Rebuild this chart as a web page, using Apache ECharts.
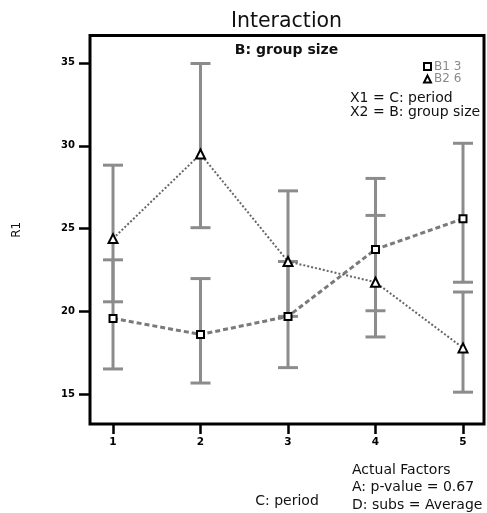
<!DOCTYPE html>
<html>
<head>
<meta charset="utf-8">
<script src="https://cdn.jsdelivr.net/npm/echarts@6/dist/echarts.min.js"></script>
<style>
html,body{margin:0;padding:0;background:#fff;}
#chart{width:487px;height:513px;}
</style>
</head>
<body>
<div id="chart"></div>
<script>
// Data
const periods = [1, 2, 3, 4, 5];
const xTicks = [1, 2, 3, 4, 5];
const yTicks = [15, 20, 25, 30, 35];
const b1Name = 'B1 3';
const b2Name = 'B2 6';
const b1Mean = [19.59, 18.62, 19.71, 23.75, 25.6];
const b1Low  = [16.54, 15.69, 16.62, 20.05, 21.77];
const b1High = [23.12, 21.99, 23.02, 28.03, 30.15];
const b2Mean = [24.4, 29.5, 23.02, 21.77, 17.81];
const b2Low  = [20.59, 25.06, 19.71, 18.47, 15.14];
const b2High = [28.83, 34.96, 27.28, 25.8, 21.18];

const FONT = 'DejaVu Sans';
const chart = echarts.init(document.getElementById('chart'), null, {renderer: 'canvas'});

function errData(low, high) {
  return periods.map((p, i) => [p, low[i], high[i]]);
}
function errRender(params, api) {
  const x = api.value(0);
  const lo = api.coord([x, api.value(1)]);
  const hi = api.coord([x, api.value(2)]);
  const h = 10;
  const st = {stroke: '#8c8c8c', lineWidth: 3};
  return {
    type: 'group',
    children: [
      {type: 'line', shape: {x1: lo[0], y1: lo[1], x2: hi[0], y2: hi[1]}, style: st},
      {type: 'line', shape: {x1: lo[0] - h, y1: lo[1], x2: lo[0] + h, y2: lo[1]}, style: st},
      {type: 'line', shape: {x1: hi[0] - h, y1: hi[1], x2: hi[0] + h, y2: hi[1]}, style: st}
    ]
  };
}

const option = {
  animation: false,
  backgroundColor: '#fff',
  grid: {left: 90, top: 35.5, right: 3, bottom: 83, show: true, borderColor: '#000', borderWidth: 3, backgroundColor: 'transparent'},
  xAxis: {
    type: 'value', min: 0.737, max: 5.24,
    name: 'C: period', nameLocation: 'middle', nameGap: 70,
    nameTextStyle: {fontFamily: FONT, fontSize: 14, color: '#111'},
    axisLine: {show: false},
    splitLine: {show: false},
    axisTick: {show: true, length: 10, lineStyle: {color: '#000', width: 2.5}, customValues: xTicks},
    axisLabel: {fontFamily: FONT, fontSize: 10.5, fontWeight: 'bold', color: '#000', margin: 13, customValues: xTicks}
  },
  yAxis: {
    type: 'value', min: 13.22, max: 36.65,
    name: 'R1', nameLocation: 'middle', nameGap: 67, nameRotate: 90,
    nameTextStyle: {fontFamily: FONT, fontSize: 12, color: '#111'},
    axisLine: {show: false},
    splitLine: {show: false},
    axisTick: {show: true, length: 11, lineStyle: {color: '#000', width: 2.5}, customValues: yTicks},
    axisLabel: {fontFamily: FONT, fontSize: 10, fontWeight: 'bold', color: '#000', margin: 15, customValues: yTicks}
  },
  legend: {
    orient: 'vertical', left: 423, top: 60.5, padding: 0, itemWidth: 7, itemHeight: 7, itemGap: 0.6,
    textStyle: {fontFamily: FONT, fontSize: 12, lineHeight: 12, color: '#8a8a8a', padding: [0, 0, 0, -2]},
    data: [{name: b1Name, icon: 'rect'}, {name: b2Name, icon: 'triangle'}]
  },
  series: [
    {type: 'custom', name: 'errB1', renderItem: errRender, data: errData(b1Low, b1High), z: 1, silent: true},
    {type: 'custom', name: 'errB2', renderItem: errRender, data: errData(b2Low, b2High), z: 1, silent: true},
    {
      type: 'line', name: b1Name, data: periods.map((p, i) => [p, b1Mean[i]]), z: 3,
      symbol: 'rect', symbolSize: 7, showAllSymbol: true,
      lineStyle: {color: '#7a7a7a', width: 3, type: [5, 3]},
      itemStyle: {color: '#fff', borderColor: '#000', borderWidth: 2}
    },
    {
      type: 'line', name: b2Name, data: periods.map((p, i) => [p, b2Mean[i]]), z: 3,
      symbol: 'triangle', symbolSize: 9, showAllSymbol: true,
      lineStyle: {color: '#666', width: 2, type: [2, 2]},
      itemStyle: {color: '#fff', borderColor: '#000', borderWidth: 2}
    }
  ],
  graphic: [
    {type: 'text', style: {text: 'Interaction', x: 286.5, y: 22, align: 'center', verticalAlign: 'middle', fontFamily: FONT, fontSize: 20.5, fill: '#111'}},
    {type: 'text', style: {text: 'B: group size', x: 286.5, y: 50, align: 'center', verticalAlign: 'middle', fontFamily: FONT, fontSize: 14, fontWeight: 'bold', fill: '#111'}},
    {type: 'text', style: {text: 'X1 = C: period', x: 350, y: 98, align: 'left', verticalAlign: 'middle', fontFamily: FONT, fontSize: 14, fill: '#111'}},
    {type: 'text', style: {text: 'X2 = B: group size', x: 350, y: 112, align: 'left', verticalAlign: 'middle', fontFamily: FONT, fontSize: 14, fill: '#111'}},
    {type: 'text', style: {text: 'Actual Factors', x: 352, y: 470, align: 'left', verticalAlign: 'middle', fontFamily: FONT, fontSize: 14, fill: '#111'}},
    {type: 'text', style: {text: 'A: p-value = 0.67', x: 352, y: 487.5, align: 'left', verticalAlign: 'middle', fontFamily: FONT, fontSize: 14, fill: '#111'}},
    {type: 'text', style: {text: 'D: subs = Average', x: 352, y: 505, align: 'left', verticalAlign: 'middle', fontFamily: FONT, fontSize: 14, fill: '#111'}}
  ]
};
chart.setOption(option);
</script>
</body>
</html>
